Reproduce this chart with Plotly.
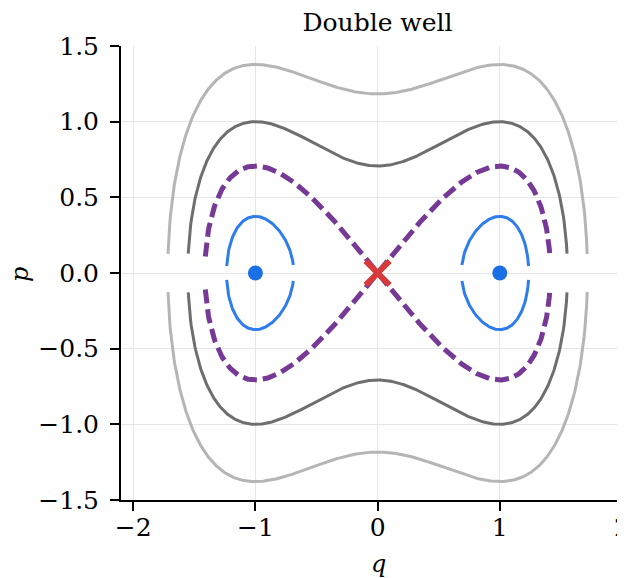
import numpy as np
import plotly.graph_objects as go

# Energy levels of H = p^2/2 + (q^2 - 1)^2 / 4
energy_levels = [0.95, 0.5, 0.25, 0.07]
level_colors = ["#b5b5b5", "#6e6e6e", "#763a96", "#2f7ded"]
level_widths = [3, 3, 5, 3]
level_dashes = ["solid", "solid", "14px,6px", "solid"]

# Fixed points
center_q = [-1, 1]
center_p = [0, 0]
saddle_q = [0]
saddle_p = [0]

x_ticks = [-2, -1, 0, 1, 2]
y_ticks = [-1.5, -1.0, -0.5, 0.0, 0.5, 1.0, 1.5]

q = np.arange(-420, 421) * 0.005
V = (q ** 2 - 1) ** 2 / 4

fig = go.Figure()
for E, col, w, d in zip(energy_levels, level_colors, level_widths, level_dashes):
    arg = 2 * (E - V)
    p = np.where(arg >= 0, np.sqrt(np.clip(arg, 0, None)), np.nan)
    xs, ys = [], []
    for sign in (1, -1):
        for qi, pi in zip(q, p):
            xs.append(float(qi))
            ys.append(None if np.isnan(pi) else float(sign * pi))
        xs.append(None)
        ys.append(None)
    fig.add_trace(go.Scatter(x=xs, y=ys, mode="lines",
                             line=dict(color=col, width=w, dash=d),
                             connectgaps=False, showlegend=False,
                             hoverinfo="skip"))

fig.add_trace(go.Scatter(x=center_q, y=center_p, mode="markers",
                         marker=dict(color="#1a6ee6", size=15, line=dict(width=0)),
                         showlegend=False))
fig.add_trace(go.Scatter(x=saddle_q, y=saddle_p, mode="markers",
                         marker=dict(symbol="x-thin", size=24, color="#d63a3a",
                                     line=dict(color="#d63a3a", width=6)),
                         showlegend=False))

font_family = "DejaVu Serif"
axis_common = dict(
    showline=True, linecolor="black", linewidth=2,
    ticks="outside", ticklen=9, tickwidth=2, tickcolor="black",
    showgrid=True, gridcolor="#e6e6e6", gridwidth=1,
    zeroline=False, mirror=False, automargin=False,
    ticklabeloverflow="allow",
    tickfont=dict(family=font_family, size=25, color="black"),
)

# page body has an 8px margin: lay the figure out in window pixels minus 8
OFF = 8
W, H = 625 - OFF, 578 - OFF
L, T = 121 - OFF, 46 - OFF
PLOT_BOTTOM = 500 - OFF
B = H - PLOT_BOTTOM
PW, PH = W - L, PLOT_BOTTOM - T

fig.update_layout(
    width=W, height=H,
    margin=dict(l=L, r=0, t=T, b=B, autoexpand=False),
    plot_bgcolor="white", paper_bgcolor="white",
    title=dict(text="Double well", x=(377.5 - 121) / PW, xref="paper",
               xanchor="center",
               y=1 - (22 - OFF) / H, yref="container", yanchor="middle",
               font=dict(family=font_family, size=25, color="black")),
    xaxis=dict(range=[-2.1, 2.0246], tickvals=x_ticks,
               ticktext=[str(v).replace("-", "\u2212") for v in x_ticks],
               ticklabelstandoff=-5,
               **axis_common),
    yaxis=dict(range=[-1.5, 1.5], tickvals=y_ticks,
               ticktext=[f"{v:.1f}".replace("-", "\u2212") for v in y_ticks],
               ticklabelstandoff=6,
               **axis_common),
    annotations=[
        dict(text="<i>q</i>", xref="paper", yref="paper",
             x=(378 - 121) / PW, y=-(564 - 500) / PH,
             xanchor="center", yanchor="middle", showarrow=False,
             font=dict(family=font_family, size=24, color="black")),
        dict(text="<i>p</i>", xref="paper", yref="paper", textangle=-90,
             x=(20 - 121) / PW, y=(500 - 275) / PH,
             xanchor="center", yanchor="middle", showarrow=False,
             font=dict(family=font_family, size=24, color="black")),
    ],
)

fig.write_html("out.html")
